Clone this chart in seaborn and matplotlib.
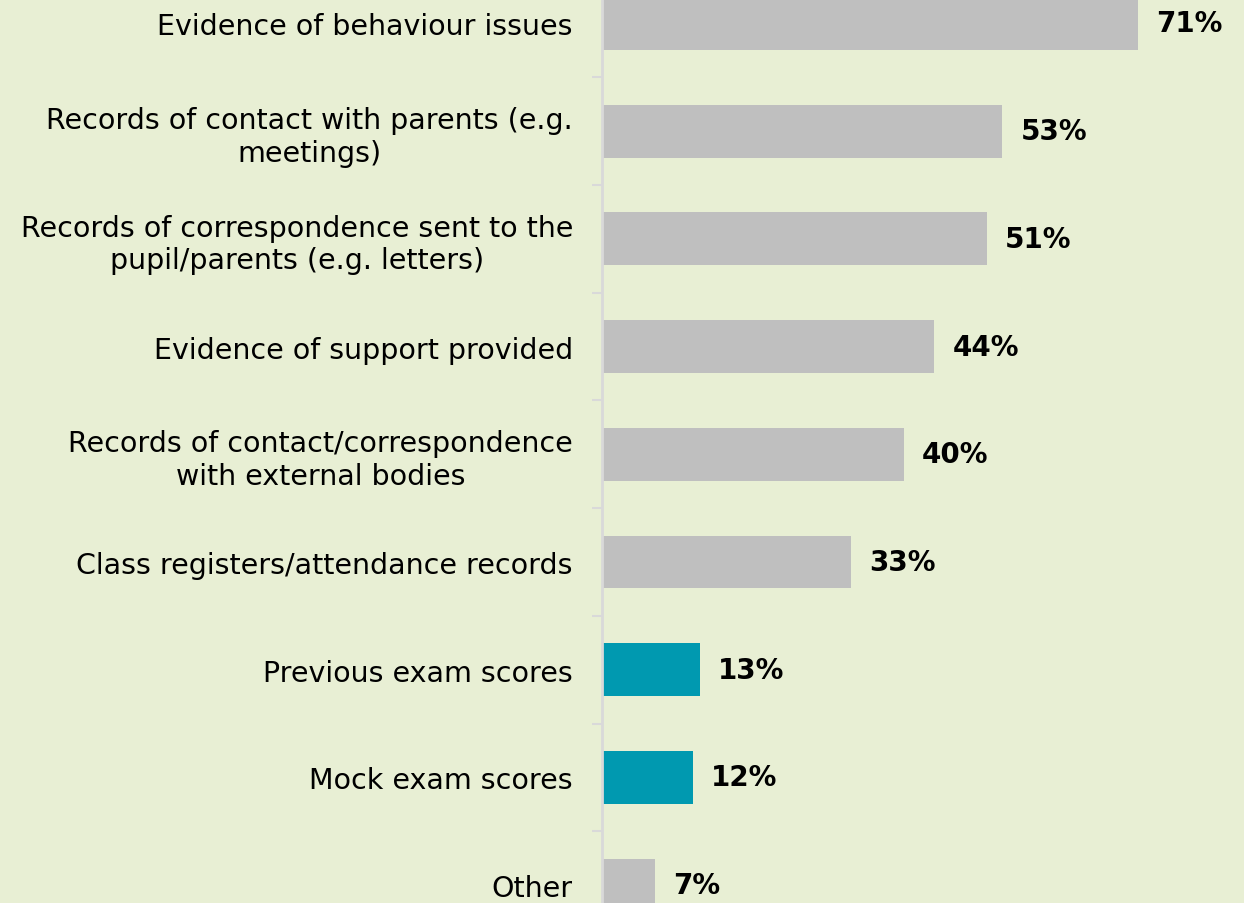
import pandas as pd
import matplotlib.pyplot as plt
import seaborn as sns

# Chart data
labels = ['Evidence of behaviour issues',
          'Records of contact with parents (e.g.\nmeetings)',
          'Records of correspondence sent to the\npupil/parents (e.g. letters)',
          'Evidence of support provided',
          'Records of contact/correspondence\nwith external bodies',
          'Class registers/attendance records',
          'Previous exam scores',
          'Mock exam scores',
          'Other']
values = [71, 53, 51, 44, 40, 33, 13, 12, 7]
highlight = [False, False, False, False, False, False, True, True, False]

# Colours
bg_color = '#E8EFD4'
grey = '#BFBFBF'
teal = '#0099B0'

df = pd.DataFrame({'label': labels, 'value': values})
palette = {lab: (teal if h else grey) for lab, h in zip(labels, highlight)}

# Visualizations
fig, ax = plt.subplots(figsize=(12.44, 9.04), dpi=100)
fig.patch.set_facecolor(bg_color)
ax.set_facecolor(bg_color)
fig.subplots_adjust(left=0.484, right=1.0, top=1.0, bottom=0.0)

sns.barplot(data=df, x='value', y='label', hue='label', palette=palette,
            width=0.49, legend=False, saturation=1, ax=ax)

for container in ax.containers:
    ax.bar_label(container, fmt='%d%%', padding=13, fontsize=20, fontweight='bold')

ax.set_xlim(0, 85)
ax.set_ylim(8.166, -0.227)
ax.set_xlabel('')
ax.set_ylabel('')
ax.set_xticks([])

# Spines and ticks
for side in ['top', 'right', 'bottom']:
    ax.spines[side].set_visible(False)
ax.spines['left'].set_color('#D9D9D9')
ax.spines['left'].set_linewidth(2)
ax.tick_params(axis='y', which='major', length=0, pad=21, labelsize=20.5)
ax.set_yticks([i + 0.5 for i in range(8)], minor=True)
ax.tick_params(axis='y', which='minor', length=7, width=1.5, color='#D9D9D9')
for t in ax.get_yticklabels():
    t.set_horizontalalignment('right')
    t.set_multialignment('center')

plt.savefig('out.png', dpi=100, facecolor=bg_color)
